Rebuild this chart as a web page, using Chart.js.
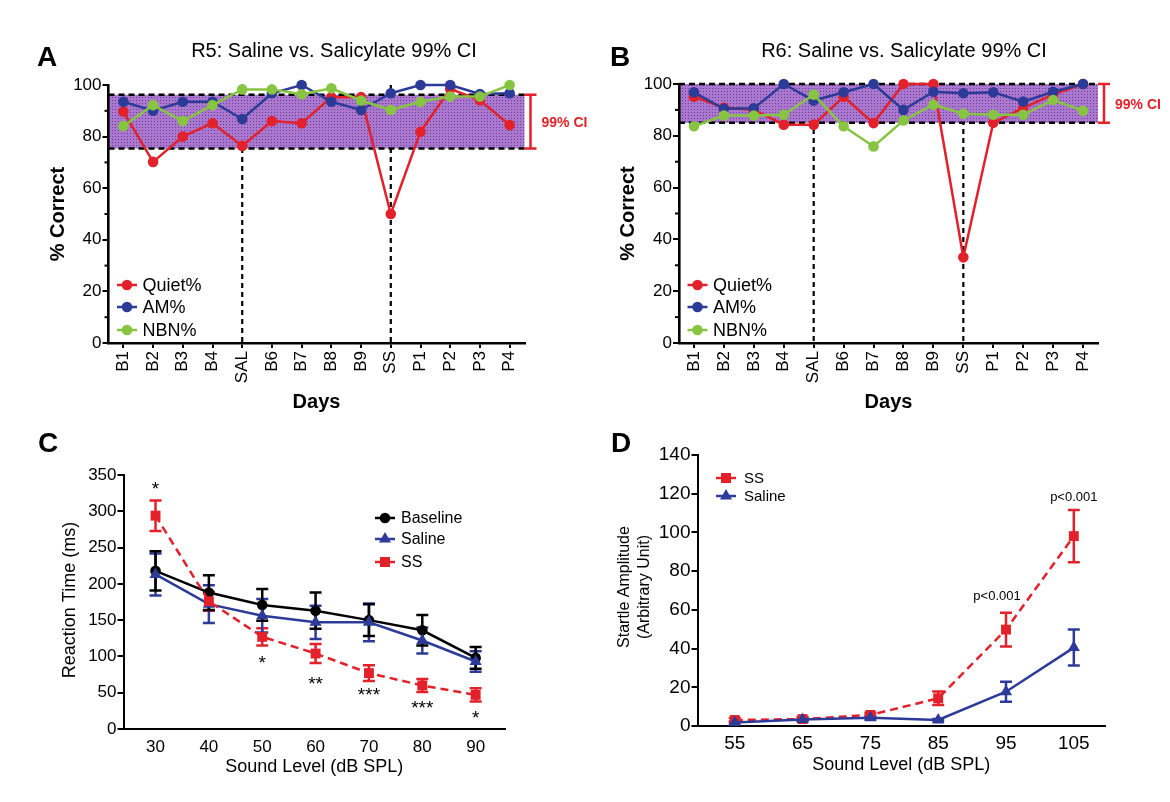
<!DOCTYPE html>
<html><head><meta charset="utf-8">
<script src="https://cdn.jsdelivr.net/npm/chart.js@4.4.1/dist/chart.umd.min.js"></script>
<style>
html,body{margin:0;padding:0;background:#fff;width:1170px;height:802px;overflow:hidden}
canvas{position:absolute;left:0;top:0}
</style></head><body>
<canvas id="cA" width="1170" height="802"></canvas>
<canvas id="cB" width="1170" height="802"></canvas>
<canvas id="cC" width="1170" height="802"></canvas>
<canvas id="cD" width="1170" height="802"></canvas>
<script>
// ---------- DATA ----------
const days = ['B1','B2','B3','B4','SAL','B6','B7','B8','B9','SS','P1','P2','P3','P4'];
const r5Quiet = [89.7,70.2,80,85.2,76.4,86,85.2,95.3,95.3,50,81.9,98.5,94.1,84.5];
const r5AM    = [93.5,90,93.5,93.5,86.8,96.8,100,93.5,90.3,96.8,100,100,96.5,96.8];
const r5NBN   = [84.1,92.2,86,92.2,98.3,98.3,96.4,98.7,94,90.3,93.5,95.5,95.5,100];
const r5CI    = [75.4, 96.2];
const r6Quiet = [95.1,90.8,90.1,84.3,84.3,95.1,84.9,100,100,33.1,85,90.8,95.9,100];
const r6AM    = [96.8,90.4,90.6,100,93.6,96.8,100,90,97,96.4,96.8,93.2,97,100];
const r6NBN   = [83.7,87.8,87.8,88.1,95.9,83.7,75.9,85.9,92,88.5,88.1,88.1,93.8,89.7];
const r6CI    = [85, 100];
const treatmentDays = ['SAL','SS'];
const pctTicks = [0,20,40,60,80,100];

const levelsC   = [30,40,50,60,70,80,90];
const baselineC = [218,188,171,163,150,136,98];
const baselineCErr = [27,24,22,25,22,21,15];
const salineC   = [213,172,156,147,147,122,93];
const salineCErr = [29,26,23,23,26,18,14];
const ssC       = [294,176,127,104,77,60,47];
const ssCErr    = [21,13,12,13,11,9,9];
const starsC    = ['*','','*','**','***','***','*'];
const starValC  = [336,null,97,68,52,35,20];
const rtTicks   = [0,50,100,150,200,250,300,350];

const levelsD   = [55,65,75,85,95,105];
const ssD       = [3.1,3.6,5.7,14.3,49.8,98.1];
const ssDErr    = [1,1,1.2,3.5,8.7,13.5];
const salineD   = [1.8,3.4,4.3,3.1,17.7,40.5];
const salineDErr = [0.5,0.8,1,0.5,5.2,9.3];
const pTextD    = ['','','','','p<0.001','p<0.001'];
const pValD     = [null,null,null,null,67,118];
const ampTicks  = [0,20,40,60,80,100,120,140];

// ---------- STYLE ----------
const FONT = "'Liberation Sans', Arial, Helvetica, sans-serif";
const RED = '#e2212a', BLUE = '#2d3b98', GREEN = '#86c441', BLACK = '#000';
const YW = 60, XH = 60;
function pad(a){ return {left:a.l-YW, right:1170-a.r, top:a.t, bottom:802-a.b-XH}; }
const fixY = s => { s.width = YW; };
const fixX = s => { s.height = XH; };
function setTicks(arr){ return s => { s.ticks = arr.map(v=>({value:v})); }; }

function txt(ctx,s,x,y,font,color,align,base,rot){
  ctx.save(); ctx.translate(x,y); if(rot) ctx.rotate(rot);
  ctx.font=font; ctx.fillStyle=color||BLACK; ctx.textAlign=align||'center'; ctx.textBaseline=base||'middle';
  ctx.fillText(s,0,0); ctx.restore();
}
function marker(ctx,shape,x,y,color){
  ctx.save(); ctx.fillStyle=color; ctx.beginPath();
  if(shape==='circle'){ ctx.arc(x,y,5.3,0,Math.PI*2); }
  else if(shape==='rect'){ ctx.rect(x-5,y-5,10,10); }
  else { const r=7; for(let k=0;k<3;k++){ const a=k*2*Math.PI/3; const px=x+Math.sin(a)*r, py=y-Math.cos(a)*r; k?ctx.lineTo(px,py):ctx.moveTo(px,py);} ctx.closePath(); }
  ctx.fill(); ctx.restore();
}
function legend(ctx,items,x,tx,ys,size){
  items.forEach((it,i)=>{
    ctx.save(); ctx.strokeStyle=it.color; ctx.lineWidth=2.5; ctx.beginPath();
    ctx.moveTo(x-10,ys[i]); ctx.lineTo(x+10,ys[i]); ctx.stroke(); ctx.restore();
    marker(ctx,it.shape,x,ys[i],it.color);
    txt(ctx,it.label,tx,ys[i]+1,size+'px '+FONT,BLACK,'left','middle');
  });
}
function dline(ctx,x1,y1,x2,y2,w,dash,color){
  ctx.save(); ctx.strokeStyle=color||BLACK; ctx.lineWidth=w; ctx.setLineDash(dash||[]);
  ctx.beginPath(); ctx.moveTo(x1,y1); ctx.lineTo(x2,y2); ctx.stroke(); ctx.restore();
}
function bandPattern(ctx){
  const c=document.createElement('canvas'); c.width=3; c.height=3;
  const g=c.getContext('2d'); g.fillStyle='#ab78cf'; g.fillRect(0,0,3,3);
  g.fillStyle='#6b3d92'; g.fillRect(1,1,1,1);
  return ctx.createPattern(c,'repeat');
}

const errorBars = {
  id:'errorBars',
  beforeDatasetsDraw(chart){
    const ctx=chart.ctx, ys=chart.scales.y;
    chart.data.datasets.forEach((ds,i)=>{
      if(!ds.errors) return;
      const meta=chart.getDatasetMeta(i);
      ctx.save(); ctx.strokeStyle=ds.borderColor; ctx.lineWidth=2.5; ctx.setLineDash([]);
      meta.data.forEach((pt,j)=>{
        const v=ds.data[j].y, e=ds.errors[j];
        const y1=ys.getPixelForValue(v+e), y2=ys.getPixelForValue(Math.max(0,v-e)), x=pt.x;
        ctx.beginPath(); ctx.moveTo(x,y1); ctx.lineTo(x,y2);
        ctx.moveTo(x-6,y1); ctx.lineTo(x+6,y1); ctx.moveTo(x-6,y2); ctx.lineTo(x+6,y2); ctx.stroke();
      });
      ctx.restore();
    });
  }
};

// ---------- PANELS A / B ----------
function dsAB(label,data,color){
  return {label,data,borderColor:color,backgroundColor:color,pointBackgroundColor:color,pointBorderColor:color,
    borderWidth:2.5,pointRadius:5.3,pointBorderWidth:0,tension:0,clip:false};
}
function panelAB(id,area,quiet,am,nbn,ci,cfg){
  const deco = {
    id:'deco'+id,
    beforeDatasetsDraw(chart){
      const ctx=chart.ctx, xs=chart.scales.x, ys=chart.scales.y, ca=chart.chartArea;
      treatmentDays.forEach(d=>{
        const x=xs.getPixelForValue(days.indexOf(d));
        dline(ctx,x,ys.getPixelForValue(100),x,ys.getPixelForValue(0),2.2,[5,4]);
      });
      const yt=ys.getPixelForValue(ci[1]), yb=ys.getPixelForValue(ci[0]);
      ctx.save(); ctx.fillStyle=bandPattern(ctx); ctx.fillRect(ca.left,yt,ca.right-ca.left,yb-yt); ctx.restore();
      dline(ctx,ca.left,yt,ca.right,yt,2.5,[6,4]);
      dline(ctx,ca.left,yb,ca.right,yb,2.5,[6,4]);
    },
    afterDraw(chart){
      const ctx=chart.ctx, ys=chart.scales.y, ca=chart.chartArea;
      [10,30,50,70,90].forEach(v=>{ const y=ys.getPixelForValue(v); dline(ctx,ca.left-4,y,ca.left,y,2); });
      const yt=ys.getPixelForValue(ci[1]), yb=ys.getPixelForValue(ci[0]), bx=ca.right+6;
      ctx.save(); ctx.strokeStyle=RED; ctx.lineWidth=2.5; ctx.beginPath();
      ctx.moveTo(bx,yt); ctx.lineTo(bx,yb); ctx.moveTo(bx-6,yt); ctx.lineTo(bx+6,yt); ctx.moveTo(bx-6,yb); ctx.lineTo(bx+6,yb);
      ctx.stroke(); ctx.restore();
      txt(ctx,'99% CI',bx+11,(yt+yb)/2+2,'bold 14px '+FONT,RED,'left','middle');
      txt(ctx,cfg.letter,cfg.letterX,58,'bold 28px '+FONT,BLACK);
      txt(ctx,cfg.title,cfg.titleX,51,'20px '+FONT,BLACK);
      txt(ctx,'% Correct',cfg.yTitleX,(ca.top+ca.bottom)/2,'bold 20px '+FONT,BLACK,'center','middle',-Math.PI/2);
      txt(ctx,'Days',(ca.left+ca.right)/2,402,'bold 20px '+FONT,BLACK);
      legend(ctx,[{label:'Quiet%',color:RED,shape:'circle'},{label:'AM%',color:BLUE,shape:'circle'},{label:'NBN%',color:GREEN,shape:'circle'}],
        ca.left+18.5, ca.left+34, [285,307,330], 18);
    }
  };
  return new Chart(document.getElementById(id),{
    type:'line',
    data:{labels:days,datasets:[dsAB('NBN%',nbn,GREEN),dsAB('AM%',am,BLUE),dsAB('Quiet%',quiet,RED)]},
    options:{
      responsive:false,animation:false,devicePixelRatio:1,
      layout:{padding:pad(area)},
      plugins:{legend:{display:false},tooltip:{enabled:false},title:{display:false}},
      scales:{
        x:{type:'category',offset:true,afterFit:fixX,
          grid:{display:true,drawOnChartArea:false,drawTicks:true,tickLength:5,color:BLACK,lineWidth:2},
          border:{display:true,color:BLACK,width:2.6,z:1},
          ticks:{autoSkip:false,minRotation:90,maxRotation:90,padding:3,color:BLACK,font:{family:FONT,size:17}}},
        y:{type:'linear',min:0,max:100,afterFit:fixY,afterBuildTicks:setTicks(pctTicks),
          grid:{display:true,drawOnChartArea:false,drawTicks:true,tickLength:6,color:BLACK,lineWidth:2},
          border:{display:true,color:BLACK,width:2.6,z:1},
          ticks:{padding:1,color:BLACK,font:{family:FONT,size:17}}}
      }
    },
    plugins:[deco]
  });
}
panelAB('cA',{l:108.5,r:524.5,t:85,b:343},r5Quiet,r5AM,r5NBN,r5CI,
  {letter:'A',letterX:47,title:'R5: Saline vs. Salicylate 99% CI',titleX:334,yTitleX:58});
panelAB('cB',{l:679,r:1098,t:84,b:343},r6Quiet,r6AM,r6NBN,r6CI,
  {letter:'B',letterX:620,title:'R6: Saline vs. Salicylate 99% CI',titleX:904,yTitleX:628});

// ---------- PANEL C ----------
function pts(xs,ys){ return xs.map((x,i)=>({x,y:ys[i]})); }
function dsXY(label,xs,ys,errs,color,shape,radius,dash){
  return {label,data:pts(xs,ys),errors:errs,borderColor:color,backgroundColor:color,pointBackgroundColor:color,
    pointBorderColor:color,pointStyle:shape,pointRadius:radius,pointBorderWidth:0,borderWidth:2.5,
    borderDash:dash||[],tension:0,clip:false};
}
const decoC = {
  id:'decoC',
  afterDraw(chart){
    const ctx=chart.ctx, xs=chart.scales.x, ys=chart.scales.y, ca=chart.chartArea;
    starsC.forEach((s,i)=>{ if(!s) return;
      txt(ctx,s,xs.getPixelForValue(levelsC[i]),ys.getPixelForValue(starValC[i])+10,'19px '+FONT,BLACK,'center','alphabetic'); });
    txt(ctx,'C',48,444,'bold 28px '+FONT,BLACK);
    txt(ctx,'Reaction Time (ms)',70,600,'18px '+FONT,BLACK,'center','middle',-Math.PI/2);
    txt(ctx,'Sound Level (dB SPL)',(ca.left+ca.right)/2,767,'18px '+FONT,BLACK);
    legend(ctx,[{label:'Baseline',color:BLACK,shape:'circle'},{label:'Saline',color:BLUE,shape:'tri'},{label:'SS',color:RED,shape:'rect'}],
      385,401,[518,539,562],16);
  }
};
const areaC={l:123.5,r:505,t:475,b:729};
new Chart(document.getElementById('cC'),{
  type:'line',
  data:{datasets:[
    dsXY('SS',levelsC,ssC,ssCErr,RED,'rect',7,[8,5]),
    dsXY('Saline',levelsC,salineC,salineCErr,BLUE,'triangle',7),
    dsXY('Baseline',levelsC,baselineC,baselineCErr,BLACK,'circle',5.3)]},
  options:{
    responsive:false,animation:false,devicePixelRatio:1,
    layout:{padding:pad(areaC)},
    plugins:{legend:{display:false},tooltip:{enabled:false},title:{display:false}},
    scales:{
      x:{type:'linear',min:24,max:95.5,afterFit:fixX,afterBuildTicks:setTicks(levelsC),
        grid:{display:true,drawOnChartArea:false,drawTicks:false},
        border:{display:true,color:BLACK,width:2},
        ticks:{padding:8,color:BLACK,font:{family:FONT,size:17}}},
      y:{type:'linear',min:0,max:350,afterFit:fixY,afterBuildTicks:setTicks(rtTicks),
        grid:{display:true,drawOnChartArea:false,drawTicks:true,tickLength:6,color:BLACK,lineWidth:2},
        border:{display:true,color:BLACK,width:2},
        ticks:{padding:1,color:BLACK,font:{family:FONT,size:17}}}
    }
  },
  plugins:[errorBars,decoC]
});

// ---------- PANEL D ----------
const decoD = {
  id:'decoD',
  afterDraw(chart){
    const ctx=chart.ctx, xs=chart.scales.x, ys=chart.scales.y, ca=chart.chartArea;
    pTextD.forEach((s,i)=>{ if(!s) return;
      const dx = i===4 ? -9 : 0;
      txt(ctx,s,xs.getPixelForValue(levelsD[i])+dx,ys.getPixelForValue(pValD[i]),'13px '+FONT,BLACK); });
    txt(ctx,'D',621,444,'bold 28px '+FONT,BLACK);
    txt(ctx,'Startle Amplitude',625,587,'16px '+FONT,BLACK,'center','middle',-Math.PI/2);
    txt(ctx,'(Arbitrary Unit)',645,587,'16px '+FONT,BLACK,'center','middle',-Math.PI/2);
    txt(ctx,'Sound Level (dB SPL)',(ca.left+ca.right)/2,765,'18px '+FONT,BLACK);
    legend(ctx,[{label:'SS',color:RED,shape:'rect'},{label:'Saline',color:BLUE,shape:'tri'}],726,744,[478,496],15);
  }
};
const areaD={l:697.5,r:1105,t:455,b:726};
new Chart(document.getElementById('cD'),{
  type:'line',
  data:{datasets:[
    dsXY('Saline',levelsD,salineD,salineDErr,BLUE,'triangle',7),
    dsXY('SS',levelsD,ssD,ssDErr,RED,'rect',7,[8,5])]},
  options:{
    responsive:false,animation:false,devicePixelRatio:1,
    layout:{padding:pad(areaD)},
    plugins:{legend:{display:false},tooltip:{enabled:false},title:{display:false}},
    scales:{
      x:{type:'linear',min:49.5,max:109.6,afterFit:fixX,afterBuildTicks:setTicks(levelsD),
        grid:{display:true,drawOnChartArea:false,drawTicks:false},
        border:{display:true,color:BLACK,width:2},
        ticks:{padding:6,color:BLACK,font:{family:FONT,size:19}}},
      y:{type:'linear',min:0,max:140,afterFit:fixY,afterBuildTicks:setTicks(ampTicks),
        grid:{display:true,drawOnChartArea:false,drawTicks:true,tickLength:6,color:BLACK,lineWidth:2},
        border:{display:true,color:BLACK,width:2},
        ticks:{padding:1,color:BLACK,font:{family:FONT,size:19}}}
    }
  },
  plugins:[errorBars,decoD]
});
</script>
</body></html>
